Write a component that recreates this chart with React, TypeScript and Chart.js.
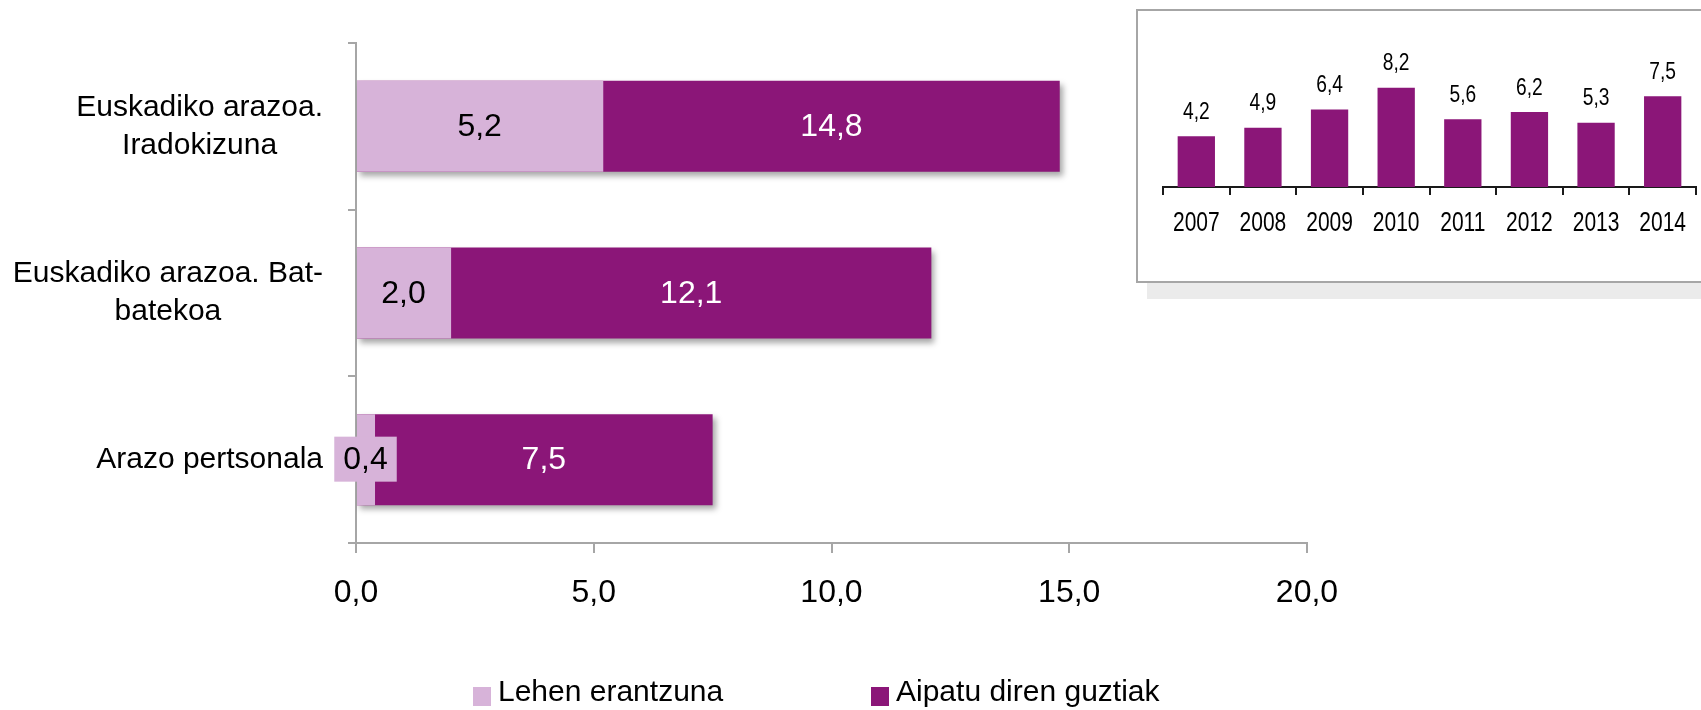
import React, { useEffect, useRef } from 'react';
import { Chart, registerables } from 'chart.js';

Chart.register(...registerables);

// ---- Data ----
const categories: string[][] = [
  ['Euskadiko arazoa.', 'Iradokizuna'],
  ['Euskadiko arazoa. Bat-', 'batekoa'],
  ['Arazo pertsonala'],
];
const seriesNames = ['Lehen erantzuna', 'Aipatu diren guztiak'];
const firstAnswer = [5.2, 2.0, 0.4];
const allMentioned = [14.8, 12.1, 7.5];
const xTickValues = [0, 5, 10, 15, 20];

const years = ['2007', '2008', '2009', '2010', '2011', '2012', '2013', '2014'];
const yearValues = [4.2, 4.9, 6.4, 8.2, 5.6, 6.2, 5.3, 7.5];

// ---- Styles ----
const LIGHT = '#D7B3D9';
const DARK = '#8B1678';
const AXIS_GRAY = '#a6a6a6';
const FONT = "'Liberation Sans', Arial, sans-serif";

const fmt = (v: number) => v.toFixed(1).replace('.', ',');

function narrowText(ctx: CanvasRenderingContext2D, text: string, x: number, y: number, sx: number) {
  ctx.save();
  ctx.translate(x, y);
  ctx.scale(sx, 1);
  ctx.fillText(text, 0, 0);
  ctx.restore();
}

const barShadowPlugin = {
  id: 'barShadow',
  beforeDatasetDraw(chart: any, args: any) {
    if (args.index === 1) {
      const ctx = chart.ctx;
      ctx.save();
      ctx.shadowColor = 'rgba(0,0,0,0.35)';
      ctx.shadowBlur = 6;
      ctx.shadowOffsetX = 3;
      ctx.shadowOffsetY = 4;
    }
  },
  afterDatasetDraw(chart: any, args: any) {
    if (args.index === 1) chart.ctx.restore();
  },
};

const mainLabelsPlugin = {
  id: 'mainLabels',
  afterDatasetsDraw(chart: any) {
    const ctx = chart.ctx;
    const xs = chart.scales.x;
    const meta0 = chart.getDatasetMeta(0);
    const d0 = chart.data.datasets[0].data as number[];
    const d1 = chart.data.datasets[1].data as number[];
    ctx.save();
    ctx.font = `32px ${FONT}`;
    ctx.textAlign = 'center';
    ctx.textBaseline = 'middle';
    d0.forEach((v0, i) => {
      const v1 = d1[i];
      const y = meta0.data[i].y;
      const p0 = xs.getPixelForValue(0);
      const p1 = xs.getPixelForValue(v0);
      const p2 = xs.getPixelForValue(v1);
      const t0 = fmt(v0);
      const w0 = ctx.measureText(t0).width;
      const cx0 = (p0 + p1) / 2;
      if (w0 + 10 > p1 - p0) {
        ctx.fillStyle = LIGHT;
        ctx.fillRect(cx0 - w0 / 2 - 9, y - 23, w0 + 18, 45);
      }
      ctx.fillStyle = '#000';
      ctx.fillText(t0, cx0, y + 1);
      ctx.fillStyle = '#fff';
      ctx.fillText(fmt(v1), (p1 + p2) / 2, y + 1);
    });
    ctx.restore();
  },
  afterDraw(chart: any) {
    const ctx = chart.ctx;
    const ys = chart.scales.y;
    const labels = chart.data.labels as string[][];
    ctx.save();
    ctx.font = `30px ${FONT}`;
    ctx.fillStyle = '#000';
    ctx.textAlign = 'center';
    ctx.textBaseline = 'middle';
    const rightEdge = ys.right - 8 - 25;
    const lh = 38;
    labels.forEach((lines, i) => {
      const yc = ys.getPixelForValue(i);
      const w = Math.max(...lines.map((l) => ctx.measureText(l).width));
      const cx = rightEdge - w / 2;
      lines.forEach((l, j) => {
        ctx.fillText(l, cx, yc + (j - (lines.length - 1) / 2) * lh);
      });
    });
    // legend
    const startX = 473;
    const slot = 398;
    const yc = 695;
    chart.data.datasets.forEach((ds: any, i: number) => {
      const bx = startX + i * slot;
      ctx.fillStyle = ds.backgroundColor;
      ctx.fillRect(bx, yc - 8, 18, 19);
      ctx.fillStyle = '#000';
      ctx.textAlign = 'left';
      ctx.fillText(ds.label, bx + 25, yc - 2);
    });
    ctx.restore();
  },
};

const insetLabelsPlugin = {
  id: 'insetLabels',
  afterDatasetsDraw(chart: any) {
    const ctx = chart.ctx;
    const meta = chart.getDatasetMeta(0);
    const data = chart.data.datasets[0].data as number[];
    ctx.save();
    ctx.font = `24px ${FONT}`;
    ctx.fillStyle = '#000';
    ctx.textAlign = 'center';
    ctx.textBaseline = 'middle';
    meta.data.forEach((el: any, i: number) => {
      narrowText(ctx, fmt(data[i]), el.x, el.y - 24, 0.8);
    });
    ctx.restore();
  },
  afterDraw(chart: any) {
    const ctx = chart.ctx;
    const xs = chart.scales.x;
    const labels = chart.data.labels as string[];
    ctx.save();
    ctx.font = `28px ${FONT}`;
    ctx.fillStyle = '#000';
    ctx.textAlign = 'center';
    ctx.textBaseline = 'middle';
    labels.forEach((l, i) => {
      narrowText(ctx, l, xs.getPixelForTick(i), chart.chartArea.bottom + 36, 0.75);
    });
    ctx.restore();
  },
};

export default function App() {
  const mainRef = useRef<HTMLCanvasElement>(null);
  const insetRef = useRef<HTMLCanvasElement>(null);

  useEffect(() => {
    const main = new Chart(mainRef.current as HTMLCanvasElement, {
      type: 'bar',
      data: {
        labels: categories as any,
        datasets: [
          {
            label: seriesNames[0],
            data: firstAnswer,
            backgroundColor: LIGHT,
            grouped: false,
            barPercentage: 0.546,
            categoryPercentage: 1,
          } as any,
          {
            label: seriesNames[1],
            data: allMentioned,
            backgroundColor: DARK,
            grouped: false,
            barPercentage: 0.546,
            categoryPercentage: 1,
          } as any,
        ],
      },
      options: {
        indexAxis: 'y',
        responsive: false,
        animation: false,
        layout: { padding: { left: 0, top: 43, right: 394, bottom: 0 } },
        plugins: {
          legend: { display: false },
          tooltip: { enabled: false },
        },
        scales: {
          x: {
            min: xTickValues[0],
            max: xTickValues[xTickValues.length - 1],
            afterFit: (s: any) => {
              s.height = 167;
            },
            afterBuildTicks: (s: any) => {
              s.ticks = xTickValues.map((v) => ({ value: v }));
            },
            ticks: {
              callback: (v: any) => fmt(Number(v)),
              font: { family: FONT, size: 32 },
              color: '#000',
              padding: 21,
            },
            grid: {
              drawOnChartArea: false,
              tickLength: 10,
              color: AXIS_GRAY,
              lineWidth: 2,
            },
            border: { color: AXIS_GRAY, width: 2 },
          },
          y: {
            afterFit: (s: any) => {
              s.width = 356;
            },
            ticks: { display: false },
            grid: {
              drawOnChartArea: false,
              offset: true,
              tickLength: 8,
              color: AXIS_GRAY,
              lineWidth: 2,
            },
            border: { color: AXIS_GRAY, width: 2 },
          },
        },
      } as any,
      plugins: [barShadowPlugin, mainLabelsPlugin],
    });

    const inset = new Chart(insetRef.current as HTMLCanvasElement, {
      type: 'bar',
      data: {
        labels: years,
        datasets: [
          {
            label: seriesNames[1],
            data: yearValues,
            backgroundColor: DARK,
            barPercentage: 0.56,
            categoryPercentage: 1,
          },
        ],
      },
      options: {
        responsive: false,
        animation: false,
        layout: { padding: { left: 25, top: 55, right: 5, bottom: 0 } },
        plugins: {
          legend: { display: false },
          tooltip: { enabled: false },
        },
        scales: {
          x: {
            afterFit: (s: any) => {
              s.height = 94;
            },
            ticks: { display: false },
            grid: {
              drawOnChartArea: false,
              offset: true,
              tickLength: 8,
              color: '#1a1a1a',
              lineWidth: 2,
            },
            border: { color: '#1a1a1a', width: 2 },
          },
          y: {
            display: false,
            min: 0,
            max: 10,
          },
        },
      } as any,
      plugins: [insetLabelsPlugin],
    });

    return () => {
      main.destroy();
      inset.destroy();
    };
  }, []);

  return (
    <div
      style={{
        position: 'absolute',
        left: 0,
        top: 0,
        width: 1701,
        height: 710,
        overflow: 'hidden',
        background: '#fff',
      }}
    >
      <canvas
        ref={mainRef}
        width={1701}
        height={710}
        style={{ position: 'absolute', left: 0, top: 0, width: 1701, height: 710 }}
      />
      <div
        style={{
          position: 'absolute',
          left: 1147,
          top: 26,
          width: 604,
          height: 273,
          background: '#ebebeb',
        }}
      />
      <div
        style={{
          position: 'absolute',
          left: 1136,
          top: 9,
          width: 600,
          height: 270,
          border: `2px solid ${AXIS_GRAY}`,
          background: '#fff',
        }}
      >
        <canvas
          ref={insetRef}
          width={563}
          height={270}
          style={{ display: 'block', width: 563, height: 270 }}
        />
      </div>
    </div>
  );
}
